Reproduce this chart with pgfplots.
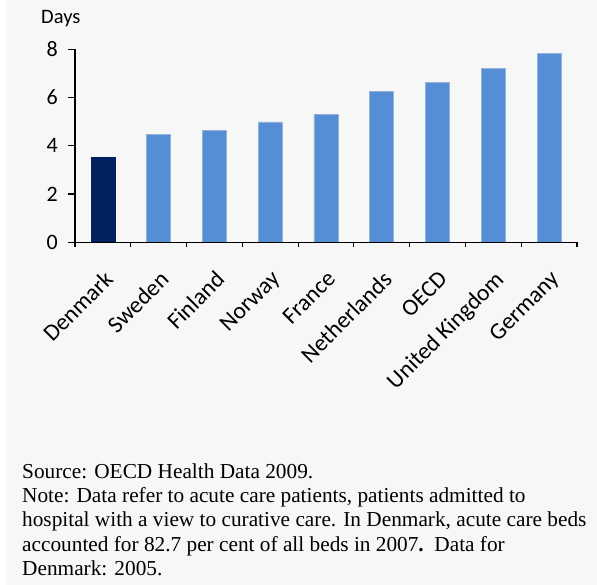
\documentclass[border=0pt]{standalone}
\usepackage{pgfplots}
\pgfplotsset{compat=1.18}
\usepackage{fontspec}
\setmainfont{Carlito}
\newfontfamily\notefont{Liberation Serif}
\definecolor{bg}{HTML}{F7F7F7}
\definecolor{dkblue}{HTML}{002060}
\definecolor{midblue}{HTML}{558ED5}
\definecolor{edgeblue}{HTML}{95B3D7}

\begin{document}
\begin{tikzpicture}
\useasboundingbox (-75bp,-342.7bp) rectangle (522bp,242.3bp);
\fill[white] (-75bp,-342.7bp) rectangle (522bp,242.3bp);
\fill[bg] (-69bp,-342.7bp) rectangle (522bp,242.3bp);
\begin{axis}[
  at={(0,0)}, anchor=south west,
  scale only axis, width=502bp, height=193bp,
  xmin=-0.5, xmax=8.5, ymin=0, ymax=8,
  axis x line*=bottom, axis y line*=left,
  axis line style={line width=1.5bp, black},
  axis on top,
  tick align=outside,
  ytick={0,2,...,8},
  xtick={0,...,8},
  xticklabels={Denmark,Sweden,Finland,Norway,France,Netherlands,OECD,United Kingdom,Germany},
  minor xtick={-0.5,0.5,...,8.5},
  major tick length=7bp, minor tick length=5bp,
  major x tick style={draw=none},
  tick style={black, line width=1.2bp},
  /pgf/number format/assume math mode=true,
  yticklabel style={font=\fontsize{22bp}{22bp}\selectfont, inner sep=0pt, anchor=east},
  xticklabel style={font=\fontsize{23.5bp}{23.5bp}\selectfont, inner sep=0pt, rotate=45, anchor=north east},
  xticklabel shift=20bp,
  yticklabel shift=10bp,
]
\addplot[ybar, bar shift=0pt, bar width=24bp, fill=dkblue, draw=dkblue]
  coordinates {(0,3.54)};
\addplot[ybar, bar shift=0pt, bar width=24bp, fill=midblue, draw=edgeblue, line width=0.8bp]
  coordinates {(1,4.48) (2,4.62) (3,4.99) (4,5.29) (5,6.27) (6,6.64) (7,7.22) (8,7.81)};
\end{axis}
\node[anchor=base west, inner sep=0pt, font=\fontsize{20.5bp}{20.5bp}\selectfont] at (-34bp,218.3bp) {Days};
\begin{scope}[every node/.style={anchor=base west, inner sep=0pt, font=\notefont\fontsize{21.3bp}{24bp}\selectfont}]
\node at (-53bp,-235.7bp) {Source: OECD Health Data 2009.};
\node at (-53bp,-260bp) {Note: Data refer to acute care patients, patients admitted to};
\node at (-53bp,-284.3bp) {hospital with a view to curative care. In Denmark, acute care beds};
\node at (-53bp,-308.7bp) {accounted for 82.7 per cent of all beds in 2007\textbf{.}\ \ Data for};
\node at (-53bp,-333bp) {Denmark: 2005.};
\end{scope}
\end{tikzpicture}
\end{document}
